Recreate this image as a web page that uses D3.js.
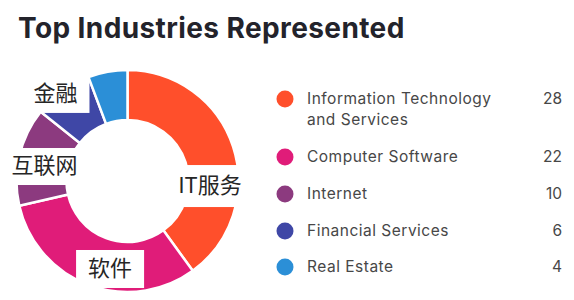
<!DOCTYPE html>
<html>
<head>
<meta charset="utf-8">
<script src="https://cdn.jsdelivr.net/npm/d3@7"></script>
<style>
  html, body { margin: 0; padding: 0; background: #fff; }
  svg { display: block; }
</style>
</head>
<body>
<svg id="chart"></svg>
<script>
// data
const industries = ["Information Technology and Services", "Computer Software", "Internet", "Financial Services", "Real Estate"];
const counts = [28, 22, 10, 6, 4];
const sliceColors = ["#ff4f2b", "#e01c79", "#8c3a7f", "#3f47a6", "#2b8fd7"];
const zhLabels = ["IT服务", "软件", "互联网", "金融", null];
const legendLines = [["Information Technology", "and Services"], ["Computer Software"], ["Internet"], ["Financial Services"], ["Real Estate"]];

const width = 574, height = 300;
const svg = d3.select("#chart").attr("width", width).attr("height", height);

svg.append("text")
  .attr("x", 18).attr("y", 38)
  .style("font-family", "Inter, 'Open Sans', sans-serif")
  .style("font-weight", 700)
  .style("font-size", "28px")
  .style("letter-spacing", "0.4px")
  .style("fill", "#23232b")
  .text("Top Industries Represented");

// donut
const cx = 127.5, cy = 181, outerR = 111, innerR = 61;
const pie = d3.pie().sort(null).value(d => d);
const arc = d3.arc().innerRadius(innerR).outerRadius(outerR);
const slices = pie(counts);

const donut = svg.append("g").attr("transform", "translate(" + cx + "," + cy + ")");
donut.selectAll("path")
  .data(slices)
  .enter()
  .append("path")
  .attr("d", arc)
  .attr("fill", (d, i) => sliceColors[i])
  .attr("stroke", "#fff")
  .attr("stroke-width", 2.5);

// chinese call-out boxes: [angle in degrees from top, radius from centre, box height]
const labelAnchors = [[93.5, 82.6, 42], [191.2, 89.7, 38], [279.9, 84.3, 37], [320.4, 113, 38]];
const tags = donut.append("g").selectAll("g")
  .data(zhLabels.map((t, i) => ({text: t, anchor: labelAnchors[i]})).filter(d => d.text))
  .enter()
  .append("g")
  .attr("transform", d => {
    let p = d3.pointRadial(d.anchor[0] * Math.PI / 180, d.anchor[1]);
    return "translate(" + p[0] + "," + p[1] + ")";
  });

tags.append("rect").attr("fill", "#fff");
tags.append("text")
  .attr("text-anchor", "middle")
  .attr("dy", "0.3em")
  .style("font-family", "'Noto Sans CJK SC', sans-serif")
  .style("font-size", "22px")
  .style("fill", "#262626")
  .text(d => d.text);
tags.each(function (d) {
  let b = d3.select(this).select("text").node().getBBox();
  let h = d.anchor[2];
  d3.select(this).select("rect")
    .attr("x", b.x - 12).attr("y", -h / 2)
    .attr("width", b.width + 24).attr("height", h);
});

// legend
const rowY = d3.scaleOrdinal().domain(industries).range([99, 157, 194, 231, 267]);
const legend = svg.append("g").selectAll("g")
  .data(industries)
  .enter()
  .append("g")
  .attr("transform", d => "translate(0," + rowY(d) + ")");

legend.append("circle")
  .attr("cx", 285).attr("r", 8.5)
  .attr("fill", (d, i) => sliceColors[i]);

legend.append("text")
  .attr("x", 307)
  .style("font-family", "Inter, 'Open Sans', sans-serif")
  .style("font-size", "15.5px")
  .style("letter-spacing", "0.5px")
  .style("fill", "#474747")
  .selectAll("tspan")
  .data((d, i) => legendLines[i])
  .enter()
  .append("tspan")
  .attr("x", 307)
  .attr("y", (d, j) => j * 21)
  .attr("dy", "0.35em")
  .text(d => d);

legend.append("text")
  .attr("x", 562)
  .attr("dy", "0.35em")
  .attr("text-anchor", "end")
  .style("font-family", "Inter, 'Open Sans', sans-serif")
  .style("font-size", "15.5px")
  .style("fill", "#474747")
  .text((d, i) => counts[i]);
</script>
</body>
</html>
